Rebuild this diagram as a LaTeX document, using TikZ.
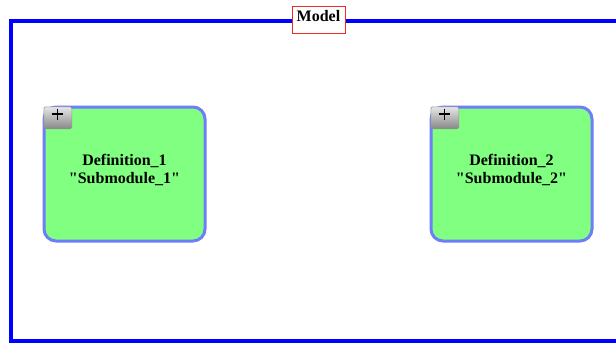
\documentclass[tikz,border=0pt]{standalone}
\usepackage{fontspec}
\setmainfont{Liberation Serif}
\newfontfamily\labfont{Liberation Serif}
\begin{document}
\begin{tikzpicture}[x=1pt,y=-1pt,
  frame/.style={draw={rgb,255:red,0;green,0;blue,255}, line width=4pt},
  modbox/.style={draw={rgb,255:red,110;green,125;blue,250}, line width=3pt,
    fill={rgb,255:red,128;green,255;blue,128}, rounded corners=12pt,
    minimum width=161pt, minimum height=134pt, inner sep=0pt},
  modtext/.style={font=\labfont\fontsize{16}{18}\selectfont\bfseries, align=center},
  plusbtn/.style={draw={rgb,255:red,150;green,150;blue,150}, line width=0.6pt,
    top color={rgb,255:red,230;green,230;blue,230}, bottom color={rgb,255:red,135;green,135;blue,135},
    minimum width=28pt, minimum height=22pt, inner sep=0pt, anchor=north west,
    rounded corners=1.5pt},
  plussign/.style={line width=1.1pt},
  title/.style={draw={rgb,255:red,240;green,40;blue,40}, line width=1pt, fill=white,
    font=\labfont\fontsize{16}{18}\selectfont\bfseries, minimum width=53pt,
    text height=11pt, text depth=9pt, inner ysep=3.5pt, inner xsep=0pt, anchor=north}
]
\useasboundingbox (0,0) rectangle (616,343);
\fill[white] (0,0) rectangle (616,343);
\draw[frame] (620,20.5) -- (11,20.5) -- (11,340.5) -- (620,340.5);
\node[title] (model) at (318.5,6) {Model};
\node[modbox] (d1) at (124.5,174) {};
\node[modbox] (d2) at (511.5,174) {};
\node[modtext] (t1) at (124.5,170) {Definition\_1\\"Submodule\_1"};
\node[modtext] (t2) at (511.5,170) {Definition\_2\\"Submodule\_2"};
\node[plusbtn] (p1) at (43.5,106.5) {};
\node[plusbtn] (p2) at (430.5,106.5) {};
\coordinate (c1) at ([yshift=-7.5pt]p1.north);
\coordinate (c2) at ([yshift=-7.5pt]p2.north);
\draw[plussign] ([xshift=-5.5pt]c1) -- ([xshift=5.5pt]c1) ([yshift=5.5pt]c1) -- ([yshift=-5.5pt]c1);
\draw[plussign] ([xshift=-5.5pt]c2) -- ([xshift=5.5pt]c2) ([yshift=5.5pt]c2) -- ([yshift=-5.5pt]c2);
\end{tikzpicture}
\end{document}
